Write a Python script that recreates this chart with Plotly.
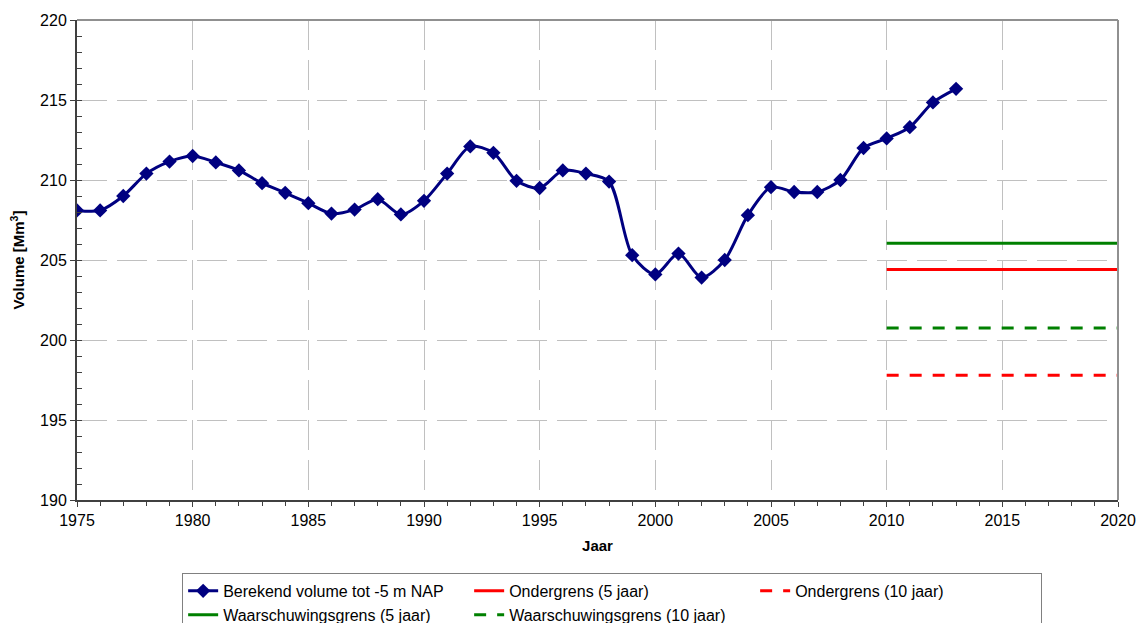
import plotly.graph_objects as go

years = list(range(1975, 2014))
volume = [208.1, 208.1, 209.0, 210.4, 211.15, 211.5, 211.1, 210.6, 209.8, 209.2,
          208.55, 207.9, 208.15, 208.8, 207.85, 208.7, 210.4, 212.1, 211.7, 209.95,
          209.5, 210.6, 210.4, 209.9, 205.3, 204.1, 205.4, 203.9, 205.0, 207.8,
          209.55, 209.25, 209.25, 210.0, 212.0, 212.6, 213.3, 214.85, 215.7]

limit_years = [2010, 2020]
ondergrens_5 = [204.4, 204.4]
ondergrens_10 = [197.8, 197.8]
waarschuwing_5 = [206.05, 206.05]
waarschuwing_10 = [200.75, 200.75]

FONT = "Liberation Sans, Arial, sans-serif"
GRID = "#c0c0c0"

fig = go.Figure()
fig.add_trace(go.Scatter(
    x=years, y=volume, mode="lines+markers", name="Berekend volume tot -5 m NAP",
    line=dict(color="#000080", width=3, shape="spline", smoothing=0.8),
    marker=dict(symbol="diamond", size=11, color="#000080"),
))
fig.add_trace(go.Scatter(x=limit_years, y=ondergrens_5, mode="lines", name="Ondergrens (5 jaar)",
                         line=dict(color="#ff0000", width=3)))
fig.add_trace(go.Scatter(x=limit_years, y=ondergrens_10, mode="lines", name="Ondergrens (10 jaar)",
                         line=dict(color="#ff0000", width=3, dash="12px,11px")))
fig.add_trace(go.Scatter(x=limit_years, y=waarschuwing_5, mode="lines", name="Waarschuwingsgrens (5 jaar)",
                         line=dict(color="#008000", width=3)))
fig.add_trace(go.Scatter(x=limit_years, y=waarschuwing_10, mode="lines", name="Waarschuwingsgrens (10 jaar)",
                         line=dict(color="#008000", width=3, dash="12px,11px")))

fig.update_layout(
    width=1137, height=623,
    margin=dict(l=77, r=19, t=20, b=123, autoexpand=False),
    paper_bgcolor="white", plot_bgcolor="white",
    font=dict(family=FONT, size=16, color="black"),
    showlegend=True,
    legend=dict(
        orientation="h", x=0.101, xanchor="left", y=-0.152, yanchor="top",
        bordercolor="#808080", borderwidth=1, entrywidth=241,
        font=dict(family=FONT, size=16), tracegroupgap=0, itemwidth=30,
    ),
    xaxis=dict(
        range=[1975, 2020], dtick=5, tick0=1975,
        showgrid=True, gridcolor=GRID, griddash="30px,10px", gridwidth=1,
        showline=True, linecolor="#404040", linewidth=2,
        ticks="outside", ticklen=5, tickcolor="#404040",
        minor=dict(dtick=1, ticks="outside", ticklen=4, tickcolor="#404040", showgrid=False),
        zeroline=False, tickfont=dict(size=16),
        title=dict(text="<b>Jaar</b>", font=dict(size=15), standoff=12),
    ),
    yaxis=dict(
        range=[190, 220], dtick=5,
        showgrid=True, gridcolor=GRID, griddash="30px,10px", gridwidth=1,
        showline=True, linecolor="#404040", linewidth=2,
        ticks="outside", ticklen=5, tickcolor="#404040",
        minor=dict(dtick=1, ticks="inside", ticklen=5, tickcolor="#404040", showgrid=False),
        zeroline=False, tickfont=dict(size=16),
        title=dict(text="<b>Volume [Mm<sup>3</sup>]</b>", font=dict(size=15), standoff=12),
    ),
    xaxis2=dict(
        overlaying="x", anchor="y", side="bottom", range=[1975, 2020], dtick=1, tick0=1975,
        ticks="inside", ticklen=4, tickcolor="#404040", showticklabels=False,
        showgrid=False, zeroline=False, showline=False,
    ),
)

fig.add_shape(type="line", xref="paper", yref="paper", x0=0, x1=1, y0=1, y1=1,
              line=dict(color="#909090", width=2))
fig.add_shape(type="line", xref="paper", yref="paper", x0=1, x1=1, y0=0, y1=1,
              line=dict(color="#909090", width=2))

fig.write_html(
    "out.html",
    config={"displayModeBar": False},
    post_script="document.body.style.margin='0px';document.body.style.overflow='hidden';",
)
